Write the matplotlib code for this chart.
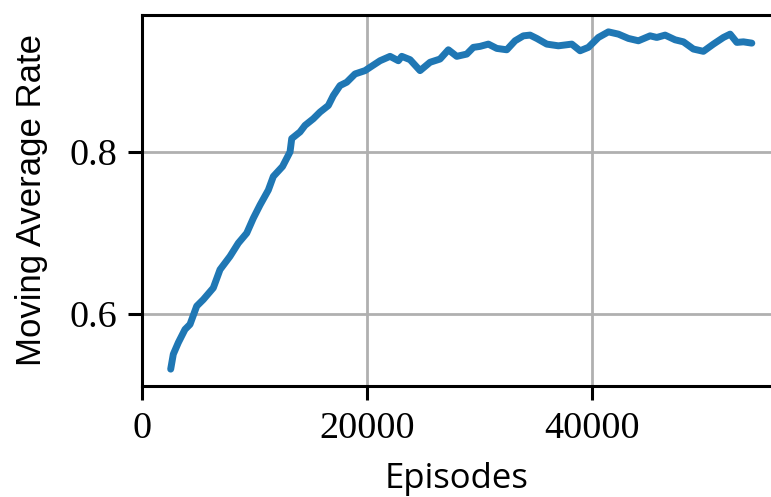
import matplotlib
matplotlib.use("Agg")
import matplotlib.pyplot as plt

episodes = [2550, 2782, 3227, 3822, 4267, 4862, 5449, 6338, 6933, 7822, 8560, 9307,
            9893, 10489, 11227, 11671, 12489, 13156, 13307, 14044, 14489, 15227, 15822,
            16560, 17004, 17600, 18196, 18933, 19822, 20267, 21156, 22044, 22782, 23084,
            23822, 24711, 25600, 26489, 27227, 27973, 28862, 29449, 30044, 30782, 31529,
            32418, 33156, 33893, 34489, 35084, 35973, 37004, 38196, 38933, 39671, 40560,
            41449, 42338, 43227, 44116, 45156, 45751, 46489, 47378, 48116, 49004, 49893,
            50782, 51671, 52267, 52862, 53449, 54196]
rate = [0.5317, 0.5501, 0.5644, 0.5807, 0.5869, 0.6094, 0.6175, 0.6319, 0.6544, 0.6708,
        0.6871, 0.6994, 0.7178, 0.7341, 0.7525, 0.7693, 0.7816, 0.7996, 0.8160, 0.8242,
        0.8323, 0.8405, 0.8487, 0.8568, 0.8691, 0.8814, 0.8855, 0.8957, 0.8998, 0.9039,
        0.9120, 0.9174, 0.9120, 0.9174, 0.9133, 0.8998, 0.9101, 0.9141, 0.9255, 0.9174,
        0.9202, 0.9285, 0.9297, 0.9325, 0.9272, 0.9255, 0.9366, 0.9427, 0.9436, 0.9395,
        0.9325, 0.9304, 0.9325, 0.9243, 0.9285, 0.9407, 0.9476, 0.9448, 0.9395, 0.9366,
        0.9427, 0.9407, 0.9436, 0.9378, 0.9353, 0.9264, 0.9236, 0.9325, 0.9407, 0.9448,
        0.9346, 0.9353, 0.9337]
xticks = [0, 20000, 40000]
yticks = [0.6, 0.8]

fig = plt.figure(figsize=(7.71, 4.97), dpi=100)
ax = fig.add_axes([142/771, 1 - 386/497, 1 - 142/771, (386 - 15)/497])
ax.plot(episodes, rate, color="#1f77b4", lw=5.0, solid_capstyle="round",
        solid_joinstyle="round")
ax.set_xlim(0, 55900)
ax.set_xticks(xticks)
ax.set_yticks(yticks)
ax.grid(True, color="#b0b0b0", lw=2.0)
ax.set_axisbelow(True)
ax.spines["right"].set_visible(False)
for s in ["left", "bottom", "top"]:
    ax.spines[s].set_linewidth(2.2)
ax.tick_params(direction="out", length=10, width=2.2, pad=8, labelsize=27.5)
for lab in ax.get_xticklabels() + ax.get_yticklabels():
    lab.set_family("Liberation Serif")
ax.set_xlabel("Episodes", fontsize=25, family="Open Sans", labelpad=12)
ax.set_ylabel("Moving Average Rate", fontsize=25, family="Liberation Sans", labelpad=15)
fig.savefig("out.png", dpi=100)
